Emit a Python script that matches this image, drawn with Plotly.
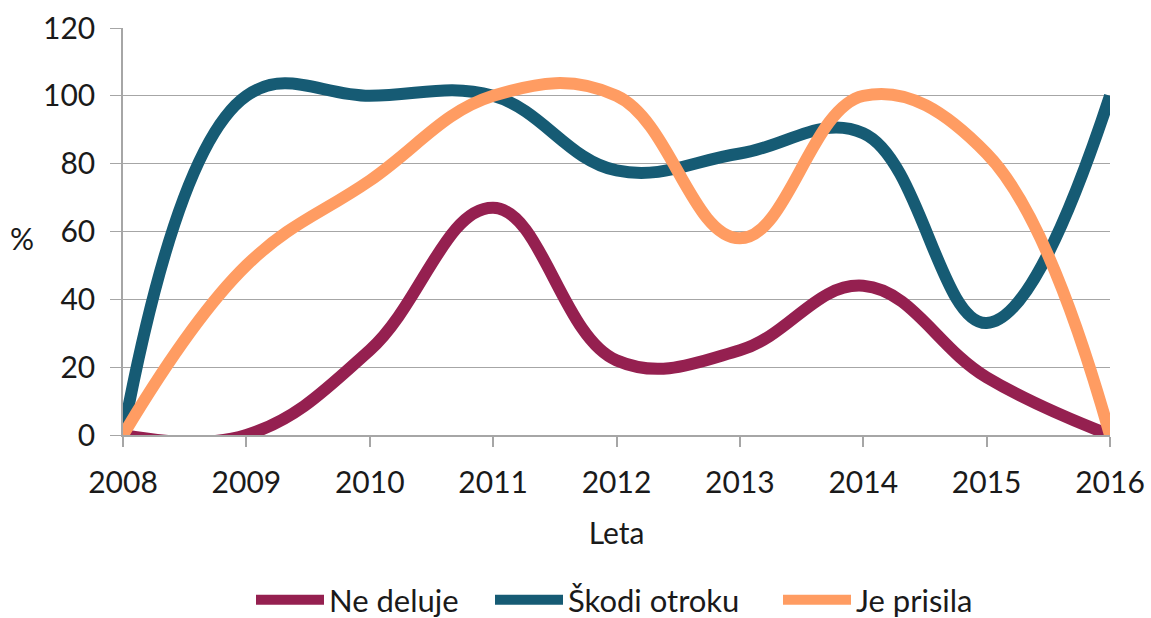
import plotly.graph_objects as go

years = [2008, 2009, 2010, 2011, 2012, 2013, 2014, 2015, 2016]
ne_deluje = [0, 0, 25, 67, 22, 25, 44, 17, 0]
skodi_otroku = [0, 100, 100, 100, 78, 83, 89, 33, 100]
je_prisila = [0, 50, 75, 100, 100, 58, 100, 83, 0]
y_ticks = [0, 20, 40, 60, 80, 100, 120]

series = [
    ("Ne deluje", ne_deluje, "#952050", "legend", 251),
    ("Škodi otroku", skodi_otroku, "#165B74", "legend2", 490),
    ("Je prisila", je_prisila, "#FF9C62", "legend3", 778),
]

FONT = "Lato, Open Sans, sans-serif"
FS = 30
font = dict(family=FONT, size=FS, color="#1a1a1a")

L, R, T, B = 123, 41, 28, 183
W, H = 1151, 618

fig = go.Figure()
legends = {}
for name, vals, col, leg, px in series:
    fig.add_trace(go.Scatter(
        x=years, y=vals, name=name, mode="lines", legend=leg,
        line=dict(color=col, width=12, shape="spline", smoothing=1.15),
    ))
    legends[leg] = dict(orientation="h", x=(px - L) / (W - L - R), xanchor="left",
                        yref="container", y=(H - 600) / H, yanchor="middle",
                        font=dict(family=FONT, size=31), itemwidth=68,
                        bgcolor="rgba(0,0,0,0)")

fig.update_layout(
    width=W, height=H,
    paper_bgcolor="white", plot_bgcolor="white",
    margin=dict(l=L, r=R, t=T, b=B, autoexpand=False),
    font=font,
    showlegend=True,
    **legends,
    xaxis=dict(
        range=[2008, 2016], tickmode="array", tickvals=years,
        ticktext=[str(y) for y in years],
        showgrid=False, showline=True, linecolor="#A6A6A6", linewidth=1.5,
        ticks="outside", ticklen=10, tickcolor="#A6A6A6", tickwidth=1.5,
        ticklabelstandoff=10,
        title=dict(text="Leta", font=dict(family=FONT, size=FS), standoff=25),
        zeroline=False,
    ),
    yaxis=dict(
        range=[0, 120], tickmode="array", tickvals=y_ticks,
        showgrid=True, gridcolor="#A6A6A6", gridwidth=1.3,
        showline=True, linecolor="#A6A6A6", linewidth=1.5,
        ticks="outside", ticklen=11, tickcolor="#A6A6A6", tickwidth=1.3,
        ticklabelstandoff=9,
        zeroline=False,
        title=None,
    ),
    annotations=[dict(text="%", showarrow=False, xref="paper", yref="paper",
                      x=(22 - L) / (W - L - R), y=1 - (238 - T) / (H - T - B),
                      xanchor="center", yanchor="middle",
                      font=dict(family=FONT, size=FS))],
)

fig.write_html("out.html", config={"displayModeBar": False},
               post_script="document.body.style.margin='0';")
